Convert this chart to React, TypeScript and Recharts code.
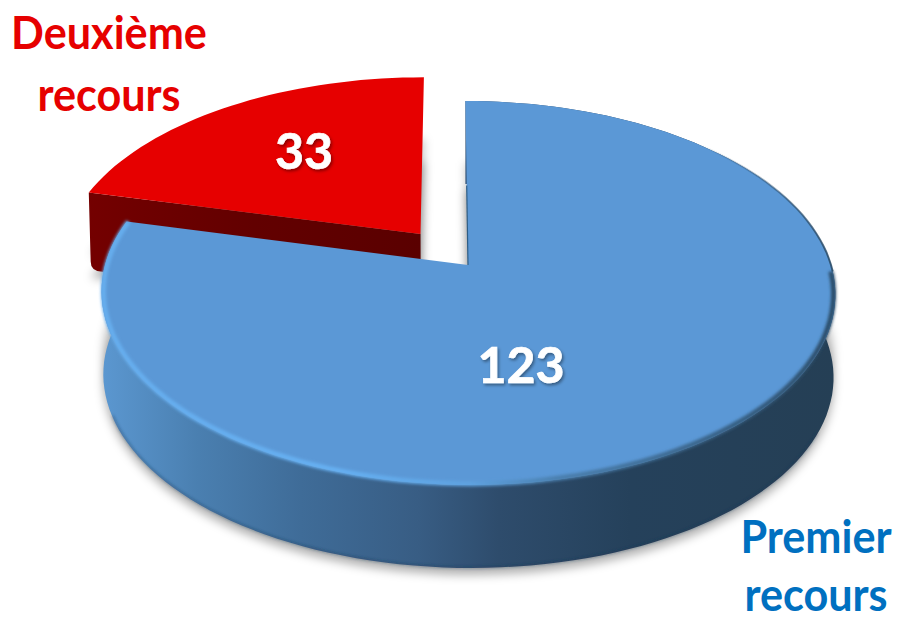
import React from 'react';
import { PieChart, Pie } from 'recharts';

const categories = ['Deuxième recours', 'Premier recours'];
const counts = [33, 123];
const sliceData = categories.map((name, i) => ({ name, value: counts[i] }));

const total = counts.reduce((sum, n) => sum + n, 0);
const FIRST_ANGLE = 90 + (counts[0] / total) * 360;

const FACE_COLORS: Record<string, string> = {
  'Deuxième recours': '#e60000',
  'Premier recours': '#5b98d6',
};
const NAME_COLORS: Record<string, string> = {
  'Deuxième recours': '#e60000',
  'Premier recours': '#0070c0',
};
const EXPLODE: Record<string, number> = { 'Deuxième recours': 0.215, 'Premier recours': 0 };

const LABEL_SPOTS: Record<string, { valueX: number; valueY: number; nameX: number; nameY: number[] }> = {
  'Deuxième recours': { valueX: 304, valueY: 169, nameX: 109, nameY: [49, 111] },
  'Premier recours': { valueX: 521, valueY: 383, nameX: 816, nameY: [553, 611] },
};

// perspective of the tilted disc
const TILT = 0.5177;
const PERSPECTIVE = 0.1458;
const SKEW = 3;
const DEPTH = 83;
const RED_DEPTH = 78;
const BASE_SCALE = 0.995;

const rad = (deg: number) => (deg * Math.PI) / 180;

type Disc = { cx: number; cy: number; r: number; offU: number; offV: number };

const discOf = (props: any): Disc => {
  const mid = rad((props.startAngle + props.endAngle) / 2);
  const explode = EXPLODE[props.name] ?? 0;
  return {
    cx: props.cx,
    cy: props.cy,
    r: props.outerRadius,
    offU: explode * Math.cos(mid),
    offV: -explode * Math.sin(mid),
  };
};

const project = (d: Disc, angle: number, radial: number, lift: number | null = null) => {
  const u = d.offU + radial * Math.cos(rad(angle));
  const v = d.offV - radial * Math.sin(rad(angle));
  const w = 1 - PERSPECTIVE * v;
  const x = d.cx + (d.r * u + SKEW * v) / w;
  const y = d.cy + (d.r * TILT * v) / w;
  if (lift === null) return [x, y];
  return [d.cx + (x - d.cx) * BASE_SCALE, y + lift];
};

const arcPoints = (d: Disc, from: number, to: number, lift: number | null = null, radial = 1) => {
  const steps = Math.max(2, Math.ceil(Math.abs(to - from) / 2));
  const pts: number[][] = [];
  for (let i = 0; i <= steps; i++) {
    pts.push(project(d, from + ((to - from) * i) / steps, radial, lift));
  }
  return pts;
};

const toPath = (pts: number[][], close = true) =>
  pts.map((p, i) => `${i ? 'L' : 'M'}${p[0].toFixed(1)} ${p[1].toFixed(1)}`).join(' ') + (close ? ' Z' : '');

const sectorPath = (d: Disc, start: number, end: number, lift: number | null = null) =>
  toPath([project(d, 0, 0, lift), ...arcPoints(d, start, end, lift)]);

const ShadowSector = (props: any) => {
  const d = discOf(props);
  const depth = props.name === 'Deuxième recours' ? RED_DEPTH : DEPTH;
  return (
    <g filter="url(#softShadow)">
      <path d={sectorPath(d, props.startAngle, props.endAngle, depth + 7)} fill="#000" fillOpacity={0.3} />
      <path d={sectorPath(d, props.startAngle, props.endAngle, 62)} fill="#000" fillOpacity={0.24} />
    </g>
  );
};

const ExtrudedSector = (props: any) => {
  const d = discOf(props);
  const { startAngle, endAngle, name } = props;

  if (name === 'Deuxième recours') {
    // only the cut side facing the viewer shows, with its lower outer corner rounded
    const apexTop = project(d, 0, 0);
    const rimTop = project(d, startAngle, 1);
    const rimBottom = project(d, startAngle, 1, RED_DEPTH);
    const apexBottom = project(d, 0, 0, RED_DEPTH);
    const cut =
      `M${apexTop[0]} ${apexTop[1]} L${rimTop[0]} ${rimTop[1]} ` +
      `L${rimBottom[0]} ${rimBottom[1] - 9} Q${rimBottom[0]} ${rimBottom[1]} ${rimBottom[0] + 10} ${rimBottom[1] + 1} ` +
      `L${apexBottom[0]} ${apexBottom[1]} Z`;
    return (
      <g>
        <path d={cut} fill="url(#redWall)" />
        <path d={sectorPath(d, startAngle, endAngle)} fill={FACE_COLORS[name]} />
      </g>
    );
  }

  const wall = toPath([...arcPoints(d, startAngle, endAngle), ...arcPoints(d, endAngle, startAngle, DEPTH)]);
  return (
    <g>
      <path d={wall} fill="url(#blueWall)" />
      <path
        d={toPath(arcPoints(d, -25, -160, DEPTH, 0.998), false)}
        fill="none"
        stroke="#1c3654"
        strokeOpacity={0.55}
        strokeWidth={1.6}
        filter="url(#rimBlur)"
      />
      <path d={sectorPath(d, startAngle, endAngle)} fill={FACE_COLORS[name]} />
      <path
        d={toPath(arcPoints(d, endAngle, -2, null, 0.995), false)}
        fill="none"
        stroke="url(#blueRim)"
        strokeWidth={5}
        filter="url(#rimBlur)"
      />
      <path
        d={toPath(arcPoints(d, -2, 60), false)}
        fill="none"
        stroke="url(#backEdge)"
        strokeWidth={2}
        filter="url(#thinBlur)"
      />
      <path d={toPath([project(d, startAngle, 0.45), project(d, 0, 0)], false)} stroke="#2d5d86" strokeWidth={1.2} />
    </g>
  );
};

const nameStyle = { fontFamily: 'Lato', fontWeight: 700, fontSize: 45 };

const SliceLabel = (props: any) => {
  const spot = LABEL_SPOTS[props.name];
  return (
    <g>
      <text
        x={spot.valueX}
        y={spot.valueY}
        textAnchor="middle"
        fill="#fff"
        stroke="#fff"
        strokeWidth={0.7}
        filter="url(#valueShadow)"
        style={{ ...nameStyle, fontSize: 50 }}
      >
        {props.value}
      </text>
      {String(props.name)
        .split(' ')
        .map((word, i) => (
          <text
            key={word}
            transform={`translate(${spot.nameX} ${spot.nameY[i]}) scale(0.96 1)`}
            textAnchor="middle"
            fill={NAME_COLORS[props.name]}
            style={nameStyle}
          >
            {word}
          </text>
        ))}
    </g>
  );
};

const App = () => (
  <div style={{ position: 'absolute', left: 0, top: 0, width: 898, height: 620, background: '#fff', overflow: 'hidden' }}>
    <PieChart width={898} height={620} margin={{ top: 0, right: 0, bottom: 0, left: 0 }}>
      <defs>
        <linearGradient id="blueWall" gradientUnits="userSpaceOnUse" x1={103} y1={0} x2={836} y2={0}>
          <stop offset="0" stopColor="#5b97d0" />
          <stop offset="0.13" stopColor="#4a7fb0" />
          <stop offset="0.27" stopColor="#3f6c98" />
          <stop offset="0.43" stopColor="#385d84" />
          <stop offset="0.54" stopColor="#2e4c6c" />
          <stop offset="0.72" stopColor="#25415b" />
          <stop offset="1" stopColor="#253f55" />
        </linearGradient>
        <linearGradient id="blueRim" gradientUnits="userSpaceOnUse" x1={103} y1={0} x2={836} y2={0}>
          <stop offset="0" stopColor="#66aeee" />
          <stop offset="0.32" stopColor="#66b0f2" />
          <stop offset="0.5" stopColor="#5ea2e0" />
          <stop offset="0.62" stopColor="#4a7fae" />
          <stop offset="1" stopColor="#2b4c68" />
        </linearGradient>
        <linearGradient id="backEdge" gradientUnits="userSpaceOnUse" x1={700} y1={0} x2={836} y2={0}>
          <stop offset="0" stopColor="#2c4f6e" stopOpacity={0} />
          <stop offset="1" stopColor="#2b4c68" stopOpacity={0.9} />
        </linearGradient>
        <linearGradient id="redWall" gradientUnits="userSpaceOnUse" x1={87} y1={0} x2={421} y2={0}>
          <stop offset="0" stopColor="#740000" />
          <stop offset="0.5" stopColor="#620000" />
          <stop offset="1" stopColor="#5a0000" />
        </linearGradient>
        <filter id="softShadow" filterUnits="userSpaceOnUse" x={0} y={0} width={898} height={620}>
          <feGaussianBlur stdDeviation={5} />
        </filter>
        <filter id="rimBlur" filterUnits="userSpaceOnUse" x={0} y={0} width={898} height={620}>
          <feGaussianBlur stdDeviation={1.4} />
        </filter>
        <filter id="thinBlur" filterUnits="userSpaceOnUse" x={0} y={0} width={898} height={620}>
          <feGaussianBlur stdDeviation={0.7} />
        </filter>
        <filter id="valueShadow" x="-20%" y="-20%" width="140%" height="140%">
          <feDropShadow dx={1.5} dy={2} stdDeviation={1.5} floodColor="#000" floodOpacity={0.4} />
        </filter>
      </defs>
      <Pie
        data={sliceData}
        dataKey="value"
        nameKey="name"
        cx={468}
        cy={265}
        innerRadius={0}
        outerRadius={363}
        startAngle={FIRST_ANGLE}
        endAngle={FIRST_ANGLE - 360}
        stroke="none"
        shape={ShadowSector}
        isAnimationActive={false}
      />
      <Pie
        data={sliceData}
        dataKey="value"
        nameKey="name"
        cx={468}
        cy={265}
        innerRadius={0}
        outerRadius={363}
        startAngle={FIRST_ANGLE}
        endAngle={FIRST_ANGLE - 360}
        stroke="none"
        shape={ExtrudedSector}
        label={SliceLabel}
        labelLine={false}
        isAnimationActive={false}
      />
    </PieChart>
  </div>
);

export default App;
